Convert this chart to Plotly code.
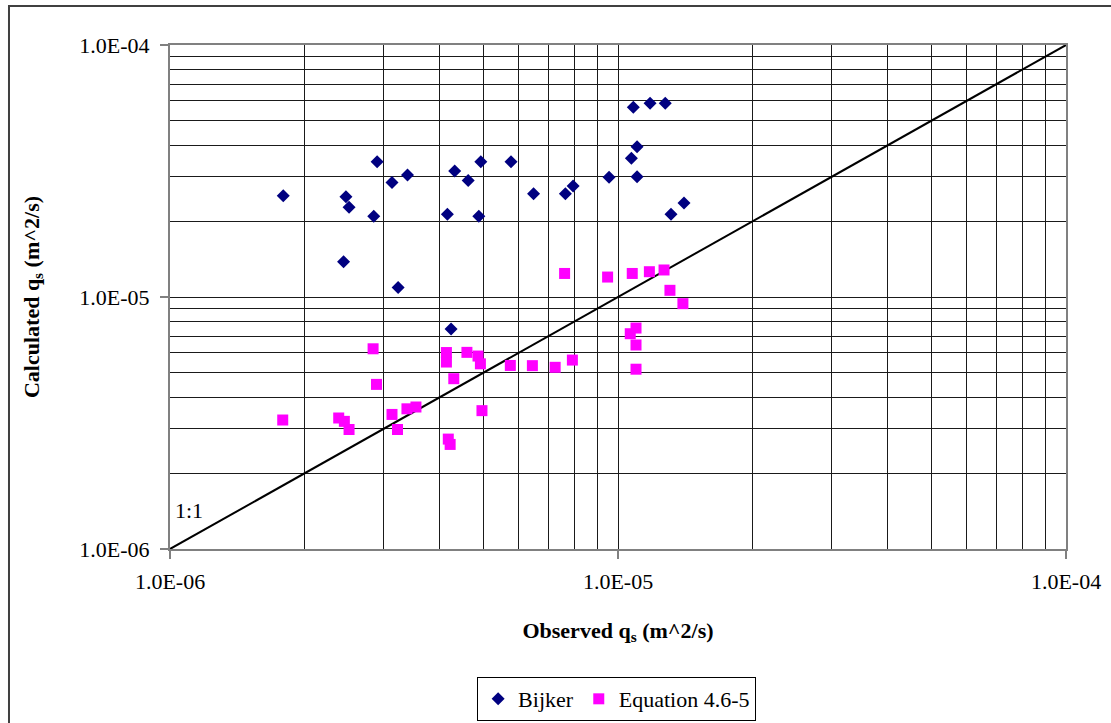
import plotly.graph_objects as go

# ---- data ----
bijker_obs = [1.79e-6, 2.47e-6, 2.51e-6, 2.44e-6, 2.90e-6, 3.13e-6, 3.39e-6, 2.85e-6,
              3.23e-6, 4.16e-6, 4.32e-6, 4.63e-6, 4.94e-6, 4.89e-6, 4.24e-6, 5.77e-6,
              6.48e-6, 7.63e-6, 7.94e-6, 9.55e-6, 1.082e-5, 1.179e-5, 1.275e-5, 1.103e-5,
              1.071e-5, 1.103e-5, 1.313e-5, 1.404e-5]
bijker_calc = [2.52e-5, 2.50e-5, 2.27e-5, 1.38e-5, 3.44e-5, 2.85e-5, 3.05e-5, 2.09e-5,
               1.09e-5, 2.13e-5, 3.16e-5, 2.90e-5, 3.44e-5, 2.09e-5, 7.46e-6, 3.44e-5,
               2.57e-5, 2.57e-5, 2.76e-5, 2.99e-5, 5.66e-5, 5.87e-5, 5.87e-5, 3.95e-5,
               3.55e-5, 3.00e-5, 2.13e-5, 2.36e-5]

eq_obs = [1.785e-6, 2.84e-6, 2.89e-6, 2.38e-6, 2.45e-6, 2.51e-6, 3.13e-6, 3.22e-6,
          3.38e-6, 3.54e-6, 4.14e-6, 4.14e-6, 4.60e-6, 4.87e-6, 4.93e-6, 4.30e-6,
          4.97e-6, 4.18e-6, 4.22e-6, 5.75e-6, 6.44e-6, 7.24e-6, 7.91e-6, 7.60e-6,
          9.48e-6, 1.076e-5, 1.175e-5, 1.267e-5, 1.306e-5, 1.396e-5, 1.097e-5,
          1.065e-5, 1.097e-5, 1.097e-5]
eq_calc = [3.25e-6, 6.23e-6, 4.50e-6, 3.31e-6, 3.21e-6, 2.98e-6, 3.42e-6, 2.98e-6,
           3.60e-6, 3.66e-6, 6.02e-6, 5.52e-6, 6.03e-6, 5.83e-6, 5.43e-6, 4.74e-6,
           3.54e-6, 2.73e-6, 2.60e-6, 5.35e-6, 5.34e-6, 5.26e-6, 5.62e-6, 1.24e-5,
           1.20e-5, 1.24e-5, 1.26e-5, 1.28e-5, 1.063e-5, 9.41e-6, 7.53e-6, 7.15e-6,
           6.45e-6, 5.17e-6]

line_1to1 = [1e-6, 1e-4]

tick_vals = [1e-6, 1e-5, 1e-4]
tick_text = ["1.0E-06", "1.0E-05", "1.0E-04"]

FONT = "Liberation Serif"
GRID = "#1a1a1a"

fig = go.Figure()
fig.add_trace(go.Scatter(x=line_1to1, y=line_1to1, mode="lines",
                         line=dict(color="black", width=2), showlegend=False,
                         hoverinfo="skip"))
fig.add_trace(go.Scatter(x=bijker_obs, y=bijker_calc, mode="markers", name="Bijker",
                         marker=dict(symbol="diamond", size=10, color="#000080")))
fig.add_trace(go.Scatter(x=eq_obs, y=eq_calc, mode="markers", name="Equation 4.6-5",
                         marker=dict(symbol="square", size=11, color="#FF00FF")))

axis_common = dict(
    type="log",
    range=[-6, -4],
    tickvals=tick_vals,
    ticktext=tick_text,
    showgrid=True,
    gridcolor=GRID,
    gridwidth=1,
    minor=dict(dtick="D1", showgrid=True, gridcolor=GRID, gridwidth=1, ticks=""),
    showline=True,
    linecolor="#808080",
    linewidth=2,
    mirror=True,
    ticks="outside",
    ticklen=8,
    tickcolor="#808080",
    tickwidth=1.5,
    tickfont=dict(family=FONT, size=22, color="black"),
    zeroline=False,
    automargin=False,
)

fig.update_layout(
    width=1111, height=723,
    margin=dict(l=170, r=45, t=45, b=174, autoexpand=False),
    paper_bgcolor="white",
    plot_bgcolor="white",
    font=dict(family=FONT, color="black"),
    xaxis=dict(**axis_common, ticklabelstandoff=4,
               title=dict(text="<b>Observed q<sub>s</sub> (m^2/s)</b>",
                          font=dict(family=FONT, size=22), standoff=29)),
    yaxis=dict(**axis_common, ticklabelstandoff=6,
               title=dict(text="<b>Calculated q<sub>s</sub> (m^2/s)</b>",
                          font=dict(family=FONT, size=22), standoff=34)),
    legend=dict(orientation="h", xref="container", yref="container",
                x=0.555, xanchor="center", y=0.0636, yanchor="top",
                bordercolor="black", borderwidth=1, bgcolor="white",
                font=dict(family=FONT, size=22), itemwidth=30,
                tracegroupgap=0),
    annotations=[dict(text="1:1", xref="paper", yref="paper", x=0.003, y=0.077,
                      xanchor="left", yanchor="middle", showarrow=False,
                      font=dict(family=FONT, size=22, color="black"))],
    shapes=[dict(type="rect", xref="paper", yref="paper",
                 x0=-0.1797, x1=1.06, y0=-0.36, y1=1.0774,
                 line=dict(color="#404040", width=2), layer="below")],
    showlegend=True,
)

fig.write_html("out.html", config={"displayModeBar": False},
               post_script="document.body.style.margin='0';")
